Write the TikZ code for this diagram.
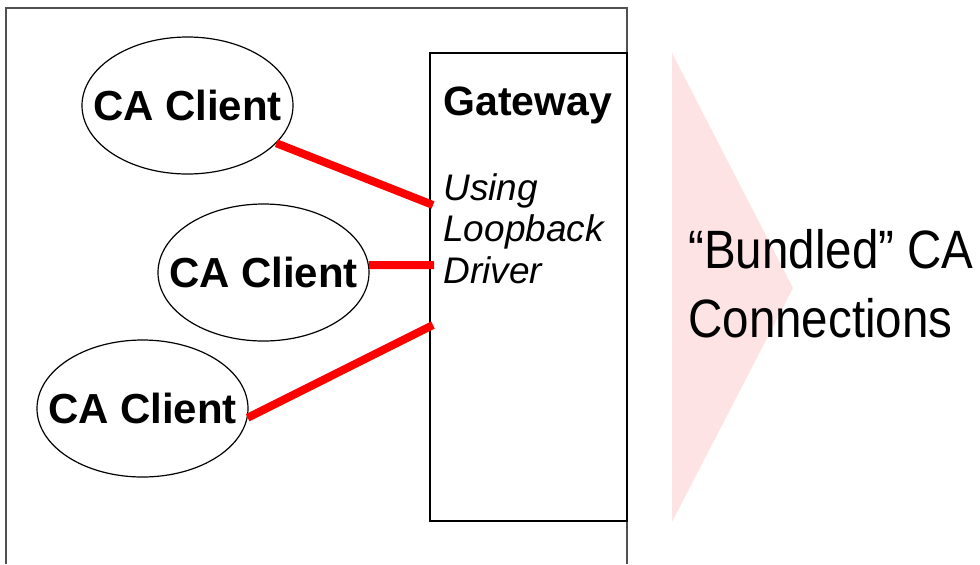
\documentclass[tikz,border=0pt]{standalone}
\usepackage{fontspec}
\setmainfont{Liberation Sans}
\newfontfamily\narrowsans[FakeStretch=0.88]{Liberation Sans}
\usepackage{tikz}
\usetikzlibrary{positioning,shapes.geometric}
\usepackage{xcolor}
\definecolor{linkred}{HTML}{FF0000}
\definecolor{bundlepink}{HTML}{FDE3E3}
\definecolor{framegray}{HTML}{505050}

\begin{document}
\begin{tikzpicture}[x=0.5pt, y=-0.5pt,
    client/.style={draw, ellipse, line width=0.6pt, inner sep=0pt,
      minimum width=105.5pt, minimum height=68.5pt},
    clientlabel/.style={font=\fontsize{21}{25}\selectfont\bfseries},
    link/.style={draw=linkred, line width=4pt}]
  \useasboundingbox (0,0) rectangle (980,564);

  % host frame, open at the bottom
  \draw[framegray, line width=0.9pt] (6,564) -- (6,8) -- (627,8) -- (627,564);

  % bundled connections
  \fill[bundlepink] (672,53) -- (793,288) -- (672,522) -- cycle;
  \node[anchor=base west, align=left, inner sep=0pt,
    font=\narrowsans\fontsize{27}{34.5}\selectfont] (bundle) at (688,337)
    {“Bundled” CA\\Connections};

  % gateway
  \node[draw, line width=0.7pt, inner sep=0pt,
    minimum width=98.5pt, minimum height=234pt] (gw) at (528.5,287) {};
  \node[anchor=base west, inner sep=0pt,
    font=\fontsize{20.5}{25}\selectfont\bfseries] (gwtitle) at (443,115) {Gateway};
  \node[anchor=base west, align=left, inner sep=0pt,
    font=\fontsize{18.5}{20.75}\selectfont\itshape] (gwnote) at (443,283)
    {Using\\Loopback\\Driver};

  % clients
  \node[client, label={[clientlabel]center:CA Client}] (c1) at (187.5,105.5) {};
  \node[client, label={[clientlabel]center:CA Client}] (c2) at (263.5,272.5) {};
  \node[client, label={[clientlabel]center:CA Client}] (c3) at (142.5,408.5) {};

  % loopback links
  \coordinate (gw1) at (433,205);
  \coordinate (gw2) at (434,265);
  \coordinate (gw3) at (433,325);
  \draw[link] (c1.-23) -- (gw1);
  \draw[link] (c2.4) -- (gw2);
  \draw[link] (c3.-5) -- (gw3);
\end{tikzpicture}
\end{document}
